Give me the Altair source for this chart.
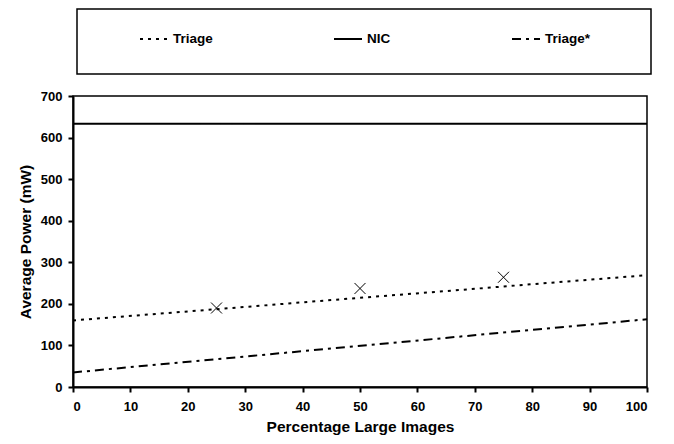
import altair as alt
import pandas as pd

# ---- data ----
line_x = [0, 100]
triage = [160, 269]
nic = [633, 633]
triage_star = [35, 163]
marker_x = [25, 50, 75]
marker_y = [190, 237, 264]
series_names = ["Triage", "NIC", "Triage*"]

rows = []
for name, vals in zip(series_names, [triage, nic, triage_star]):
    for x, v in zip(line_x, vals):
        rows.append({"pct": x, "power": v, "series": name})
lines_df = pd.DataFrame(rows)
markers_df = pd.DataFrame({"pct": marker_x, "power": marker_y})

FONT = "Liberation Sans"
axis_style = dict(
    grid=False, tickSize=5, domainWidth=2, tickWidth=2, domainColor="black", tickColor="black",
    labelFont=FONT, labelFontSize=13, labelFontWeight="bold", labelColor="black",
    titleFont=FONT, titleFontSize=15.5, titleFontWeight="bold", titleColor="black",
)

x_scale = alt.Scale(domain=[0, 100], nice=False, zero=False)
y_scale = alt.Scale(domain=[0, 700], nice=False)

lines = alt.Chart(lines_df).mark_line(color="black", strokeWidth=2, clip=True).encode(
    x=alt.X("pct:Q", scale=x_scale,
            axis=alt.Axis(title="Percentage Large Images", values=list(range(0, 101, 10)),
                          labelPadding=8, titlePadding=6, **axis_style)),
    y=alt.Y("power:Q", scale=y_scale,
            axis=alt.Axis(title="Average Power (mW)", values=list(range(0, 701, 100)),
                          labelPadding=6, titlePadding=7, **axis_style)),
    strokeDash=alt.StrokeDash(
        "series:N",
        scale=alt.Scale(domain=series_names, range=[[3, 5], [1, 0], [9, 5, 3, 5]]),
        legend=alt.Legend(title=None, orient="none", legendX=66, legendY=-72,
                          direction="horizontal", columns=3, gridAlign="none",
                          columnPadding=117, symbolType="stroke", symbolSize=784,
                          symbolStrokeColor="black", symbolStrokeWidth=2,
                          labelFont=FONT, labelFontSize=13.5, labelFontWeight="bold",
                          labelColor="black", labelOffset=4),
    ),
    detail="series:N",
)

markers = alt.Chart(markers_df).mark_point(
    shape="M-1,-1L1,1M-1,1L1,-1", size=121, filled=False, color="black", strokeWidth=1, opacity=1
).encode(x=alt.X("pct:Q", scale=x_scale), y=alt.Y("power:Q", scale=y_scale))

legend_box = alt.Chart(pd.DataFrame({"k": [0]})).mark_rect(
    fill="white", stroke="black", strokeWidth=1.5
).encode(x=alt.value(4), x2=alt.value(578), y=alt.value(-87), y2=alt.value(-22))

chart = alt.layer(legend_box, lines, markers).properties(
    width=574, height=291,
    autosize=alt.AutoSizeParams(type="none"),
    padding={"left": 65, "top": 88, "right": 19, "bottom": 49},
    background="white",
).configure_view(
    stroke="black", strokeWidth=1.5
)

chart.save("out.html", embed_options={"renderer": "svg", "actions": False})
